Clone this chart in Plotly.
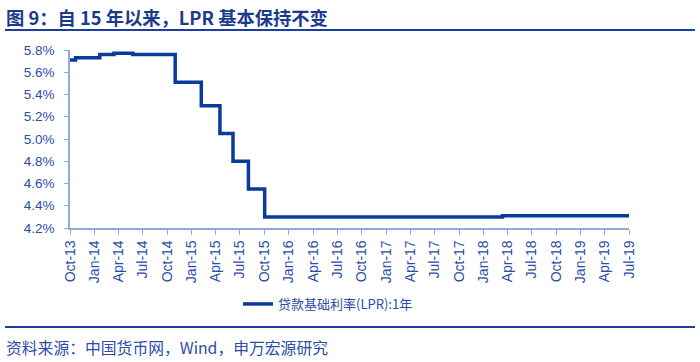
import plotly.graph_objects as go

# Data: step changes in 1-year LPR (%)
change_dates = ["2013-10-25", "2013-11-15", "2014-02-14", "2014-04-08", "2014-06-18",
                "2014-11-24", "2015-03-02", "2015-05-11", "2015-06-29", "2015-08-26",
                "2015-10-26", "2018-04-06", "2019-07-25"]
lpr_values = [5.71, 5.73, 5.76, 5.77, 5.76, 5.51, 5.30, 5.05, 4.80, 4.55, 4.30, 4.31, 4.31]

tick_dates = ["2013-10-25", "2014-01-25", "2014-04-25", "2014-07-25", "2014-10-25",
              "2015-01-25", "2015-04-25", "2015-07-25", "2015-10-25", "2016-01-25",
              "2016-04-25", "2016-07-25", "2016-10-25", "2017-01-25", "2017-04-25",
              "2017-07-25", "2017-10-25", "2018-01-25", "2018-04-25", "2018-07-25",
              "2018-10-25", "2019-01-25", "2019-04-25", "2019-07-25"]
tick_labels = ["Oct-13", "Jan-14", "Apr-14", "Jul-14", "Oct-14", "Jan-15", "Apr-15",
               "Jul-15", "Oct-15", "Jan-16", "Apr-16", "Jul-16", "Oct-16", "Jan-17",
               "Apr-17", "Jul-17", "Oct-17", "Jan-18", "Apr-18", "Jul-18", "Oct-18",
               "Jan-19", "Apr-19", "Jul-19"]
y_ticks = [4.2, 4.4, 4.6, 4.8, 5.0, 5.2, 5.4, 5.6, 5.8]

series_name = "贷款基础利率(LPR):1年"
title_text = "图 9：自 15 年以来，LPR 基本保持不变"
source_text = "资料来源：中国货币网，Wind，申万宏源研究"

LINE = "#0A3A9C"
TEXT = "#2B4DA8"
AXIS = "#8FAADC"
TITLE = "#1B3A8C"
RULE = "#1A3FA0"

L, R, T, B = 70, 71, 50, 134
W, H = 700, 362
PW, PH = W - L - R, H - T - B


def px_x(x):
    return (x - L) / PW


def px_y(y):
    return (H - B - y) / PH


fig = go.Figure()
fig.add_trace(go.Scatter(
    x=change_dates, y=lpr_values, mode="lines", name=series_name,
    line=dict(color=LINE, width=3.5, shape="hv"),
))

fig.update_layout(
    width=W, height=H,
    margin=dict(l=L, r=R, t=T, b=B, autoexpand=False),
    paper_bgcolor="white", plot_bgcolor="white",
    font=dict(family="Liberation Sans, Arial, Noto Sans CJK SC", size=12, color=TEXT),
    showlegend=True,
    legend=dict(orientation="h", x=px_x(238), xanchor="left", y=px_y(304), yanchor="middle",
                font=dict(family="Noto Sans CJK SC, Liberation Sans", size=13, color=TEXT),
                bgcolor="rgba(0,0,0,0)", itemwidth=30),
    xaxis=dict(
        type="date", range=["2013-10-25", "2019-07-25"],
        tickmode="array", tickvals=tick_dates, ticktext=tick_labels,
        tickangle=-90, showgrid=False, zeroline=False,
        showline=True, linecolor=AXIS, linewidth=1.5,
        ticks="outside", ticklen=5, tickcolor=AXIS,
        tickfont=dict(size=14, color=TEXT),
    ),
    yaxis=dict(
        range=[4.2, 5.8], tickmode="array", tickvals=y_ticks,
        ticktext=[f"{v:.1f}%" for v in y_ticks],
        showgrid=False, zeroline=False,
        showline=True, linecolor=AXIS, linewidth=1.5,
        ticks="outside", ticklen=4, tickcolor=AXIS,
        tickfont=dict(size=13.5, color=TEXT), ticklabelstandoff=7,
    ),
)

fig.add_annotation(text=f"<b>{title_text}</b>", xref="paper", yref="paper",
                   x=px_x(4), xanchor="left", y=px_y(17), yanchor="middle",
                   showarrow=False,
                   font=dict(family="Noto Sans CJK SC", size=18.3, color=TITLE))
fig.add_annotation(text=source_text, xref="paper", yref="paper",
                   x=px_x(4), xanchor="left", y=px_y(347), yanchor="middle",
                   showarrow=False,
                   font=dict(family="Noto Sans CJK SC", size=15.8, color=TEXT))

fig.add_shape(type="line", xref="paper", yref="paper", x0=px_x(5), x1=px_x(695),
              y0=px_y(30), y1=px_y(30), line=dict(color=RULE, width=2))
fig.add_shape(type="line", xref="paper", yref="paper", x0=px_x(5), x1=px_x(695),
              y0=px_y(327), y1=px_y(327), line=dict(color=RULE, width=2))

fig.write_html("out.html", config={"displayModeBar": False},
               post_script="document.body.style.margin='0';document.body.style.padding='0';")
